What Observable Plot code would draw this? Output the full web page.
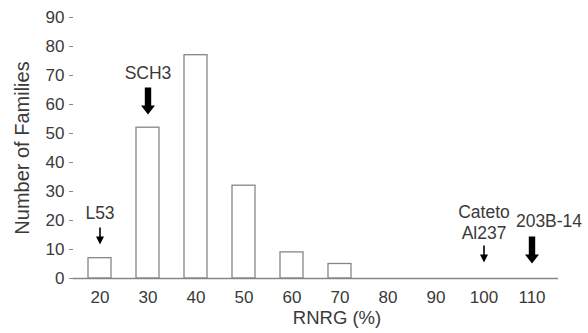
<!DOCTYPE html>
<html>
<head>
<meta charset="utf-8">
<script src="https://cdn.jsdelivr.net/npm/d3@7"></script>
<script src="https://cdn.jsdelivr.net/npm/@observablehq/plot@0.6"></script>
<style>
  html, body { margin: 0; padding: 0; background: #fff; }
  #chart { width: 588px; height: 333px; }
</style>
</head>
<body>
<div id="chart"></div>
<script>
// Data
const categories = [20, 30, 40, 50, 60, 70, 80, 90, 100, 110];
const families = [7, 52, 77, 32, 9, 5, 0, 0, 0, 0];
const yTicks = [0, 10, 20, 30, 40, 50, 60, 70, 80, 90];

// Annotations (labels and arrows)
const labelText = ["L53", "SCH3", "Cateto", "Al237", "203B-14"];
const labelX = [20, 30, 100, 100, 110];
const labelY = [22.4, 70.8, 22.8, 15.5, 19.7];
const labelShifted = [false, false, false, false, true];

const arrowX = [20, 30, 100, 110];
const arrowTailY = [17.6, 65.9, 11.4, 14.5];
const arrowKind = ["thin", "thick", "thin", "thick"];

const bars = categories.map((c, i) => ({c: String(c), v: families[i]}));
const labels = labelText.map((t, i) => ({t, c: String(labelX[i]), y: labelY[i], shifted: labelShifted[i]}));
const arrows = arrowX.map((c, i) => ({c: String(c), y: arrowTailY[i], kind: arrowKind[i]}));

const textColor = "#3a3a3a";
const lineColor = "#868686";
const font = "Liberation Sans, Arial, sans-serif";

const thickShape = {
  draw(ctx, l) {
    const sw = 3.2, hw = 7, hl = 9;
    ctx.moveTo(-sw, 0);
    ctx.lineTo(-sw, -l + hl);
    ctx.lineTo(-hw, -l + hl);
    ctx.lineTo(0, -l);
    ctx.lineTo(hw, -l + hl);
    ctx.lineTo(sw, -l + hl);
    ctx.lineTo(sw, 0);
    ctx.closePath();
  }
};
const thinShape = {
  draw(ctx, l) {
    const sw = 0.8, hw = 4, hl = 8;
    ctx.moveTo(-sw, 0);
    ctx.lineTo(-sw, -l + hl);
    ctx.lineTo(-hw, -l + hl);
    ctx.lineTo(0, -l);
    ctx.lineTo(hw, -l + hl);
    ctx.lineTo(sw, -l + hl);
    ctx.lineTo(sw, 0);
    ctx.closePath();
  }
};

const chart = Plot.plot({
  width: 588,
  height: 333,
  marginLeft: 73,
  marginRight: 30,
  marginTop: 17,
  marginBottom: 55,
  style: {fontFamily: font, fontSize: "17px", color: textColor, background: "#fff"},
  x: {type: "band", domain: categories.map(String), paddingInner: 0.53, paddingOuter: 0.285, label: null},
  y: {domain: [0, 90], ticks: yTicks, label: null},
  marks: [
    Plot.barY(bars.filter(d => d.v > 0), {x: "c", y: "v", fill: "white", stroke: lineColor, strokeWidth: 1.3}),
    Plot.ruleY([0], {stroke: lineColor, strokeWidth: 1.3}),
    Plot.ruleX([0], {frameAnchor: "left", y1: 0, y2: 90, stroke: lineColor, strokeWidth: 1.3}),
    Plot.axisY({ticks: yTicks, tickSize: 4, tickPadding: 5, stroke: lineColor, fill: textColor, fontSize: 17, label: null}),
    Plot.axisX({tickSize: 0, tickPadding: 12, fill: textColor, fontSize: 17, label: null}),
    Plot.text(["RNRG (%)"], {frameAnchor: "bottom", dy: 45, dx: 21, fill: textColor, fontSize: 18.5}),
    Plot.text(["Number of Families"], {frameAnchor: "left", textAnchor: "middle", dx: -51, rotate: -90, fill: textColor, fontSize: 20}),
    Plot.text(labels.filter(d => !d.shifted), {x: "c", y: "y", text: "t", fill: textColor, fontSize: 17.5}),
    Plot.text(labels.filter(d => d.shifted), {x: "c", y: "y", text: "t", dx: 17, fill: textColor, fontSize: 17.5}),
    Plot.vector(arrows.filter(d => d.kind === "thick"), {x: "c", y: "y", length: 27, rotate: 180, anchor: "start", shape: thickShape, fill: "black", stroke: "none"}),
    Plot.vector(arrows.filter(d => d.kind === "thin"), {x: "c", y: "y", length: 17, rotate: 180, anchor: "start", shape: thinShape, fill: "black", stroke: "none"})
  ]
});
document.getElementById("chart").appendChild(chart);
</script>
</body>
</html>
